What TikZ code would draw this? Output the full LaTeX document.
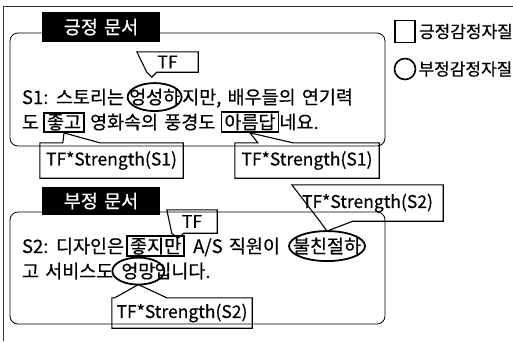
\documentclass[tikz,border=0pt]{standalone}
\usepackage{fontspec}
\setmainfont[WordSpace=1.5,FakeBold=0.5]{Noto Sans CJK KR}
\usetikzlibrary{calc,fit}
\begin{document}
\begin{tikzpicture}[x=1pt,y=-1pt,
  txt/.style={anchor=base west,inner sep=0pt,outer sep=0pt,font=\fontsize{18.5}{18.5}\selectfont},
  hlbox/.style={draw,line width=1.8pt,inner xsep=3pt,inner ysep=1.5pt},
  hlell/.style={draw,line width=1.8pt},
  roundbox/.style={draw,line width=0.8pt,rounded corners=8pt},
  label/.style={fill=black,text=white,inner sep=0pt,font=\fontsize{18.5}{18.5}\selectfont},
  callbox/.style={inner sep=0pt,font=\fontsize{17.5}{17.5}\selectfont},
  callline/.style={draw,line width=1.1pt,line join=miter},
  legtxt/.style={anchor=west,inner sep=0pt,font=\fontsize{17}{17}\selectfont}]
\useasboundingbox (0,0) rectangle (513,341);
% outer frame
\coordinate (fa) at (3,341);
\coordinate (fb) at (3,6);
\coordinate (fc) at (513,6);
\draw[line width=0.8pt,black!80] (fa) -- (fb) -- (fc);

% ---------- positive document ----------
\draw[roundbox] (10,33) rectangle (385,146);
\node[label,minimum width=118pt,minimum height=30pt] (lab1) at (101,27) {긍정 문서};

\node[txt] (a1) at (22,104) {S1: 스토리는};
\node[txt] (w1) at ([xshift=5pt]a1.base east) {엉성하};
\node[txt] (a2) at ([xshift=2pt]w1.base east) {지만, 배우들의 연기력};
\draw[hlell] (w1.center) ellipse [x radius=27pt, y radius=14pt];

\node[txt] (b1) at (22,129) {도};
\node[txt] (w2) at ([xshift=8pt]b1.base east) {좋고};
\node[txt] (b2) at ([xshift=9pt]w2.base east) {영화속의 풍경도};
\node[txt] (w3) at ([xshift=9pt]b2.base east) {아름답};
\node[txt] (b3) at ([xshift=4pt]w3.base east) {네요.};
\node[hlbox,fit=(w2)] (bx2) {};
\node[hlbox,fit=(w3)] (bx3) {};

\node[callbox,minimum width=61pt,minimum height=20pt] (tf1) at (167.5,62) {TF};
\draw[callline] (tf1.north west) -- (tf1.north east) -- (tf1.south east)
  -- ($(tf1.south west)+(20,0)$) -- ($(tf1.south west)+(15,5)$)
  -- ($(tf1.south west)+(10,0)$) -- cycle;

\node[callbox,minimum width=143pt,minimum height=35pt] (ts1) at (111.5,160.5) {TF*Strength(S1)};
\draw[callline] (ts1.south west) -- (ts1.north west) -- ($(ts1.north west)+(23,0)$)
  -- (bx2.south) -- ($(ts1.north west)+(60,0)$) -- (ts1.north east)
  -- (ts1.south east) -- cycle;

\node[callbox,minimum width=144pt,minimum height=35pt] (ts2) at (307,160.5) {TF*Strength(S1)};
\draw[callline] (ts2.south west) -- (ts2.north west) -- ($(ts2.north west)+(23,0)$)
  -- (bx3.south) -- ($(ts2.north west)+(58,0)$) -- (ts2.north east)
  -- (ts2.south east) -- cycle;

% ---------- negative document ----------
\draw[roundbox] (10,212) rectangle (385,324);
\node[label,minimum width=118pt,minimum height=28pt] (lab2) at (101,201) {부정 문서};

\node[txt] (c1) at (22,253) {S2: 디자인은};
\node[txt] (w4) at ([xshift=6pt]c1.base east) {좋지만};
\node[txt] (c2) at ([xshift=12pt]w4.base east) {A/S 직원이};
\node[txt] (w5) at ([xshift=13pt]c2.base east) {불친절하};
\node[hlbox,fit=(w4)] (bx4) {};
\draw[hlell] (w5.center) ellipse [x radius=38pt, y radius=15pt];

\node[txt] (d1) at (22,278) {고 서비스도};
\node[txt] (w6) at ([xshift=8pt]d1.base east) {엉망};
\node[txt] (d2) at ([xshift=-1pt]w6.base east) {입니다.};
\draw[hlell] (w6.center) ellipse [x radius=26pt, y radius=13.5pt];
\coordinate (e6) at ($(w6.center)+(0,13.5)$);
\coordinate (e5) at ($(w5.center)+(0,-15)$);

\node[callbox,minimum width=50pt,minimum height=23pt] (tf2) at (192,221.5) {TF};
\draw[callline] (tf2.north west) -- (tf2.north east) -- (tf2.south east)
  -- ($(tf2.south west)+(17,0)$) -- ($(tf2.south west)+(11,5)$)
  -- ($(tf2.south west)+(5,0)$) -- cycle;

\node[callbox,minimum width=151pt,minimum height=36pt] (ts3) at (367.5,203) {TF*Strength(S2)};
\draw[callline] (ts3.north west) -- (ts3.north east) -- (ts3.south east)
  -- ($(ts3.south west)+(61,0)$) -- (e5)
  -- ($(ts3.south west)+(28,0)$) -- cycle;

\node[callbox,minimum width=140pt,minimum height=30pt] (ts4) at (182,313) {TF*Strength(S2)};
\draw[callline] (ts4.south west) -- (ts4.north west) -- ($(ts4.north west)+(3,0)$)
  -- (e6) -- ($(ts4.north west)+(55,0)$) -- (ts4.north east)
  -- (ts4.south east) -- cycle;

% ---------- legend ----------
\node[draw,line width=1.6pt,minimum width=20pt,minimum height=22pt,inner sep=0pt] (sq) at (405,31.5) {};
\node[legtxt] (lq) at ([xshift=3pt]sq.east) {긍정감정자질};
\node[draw,circle,line width=1.6pt,minimum size=21pt,inner sep=0pt] (ci) at (405,69) {};
\node[legtxt] (lc) at ([xshift=2pt]ci.east) {부정감정자질};
\end{tikzpicture}
\end{document}
